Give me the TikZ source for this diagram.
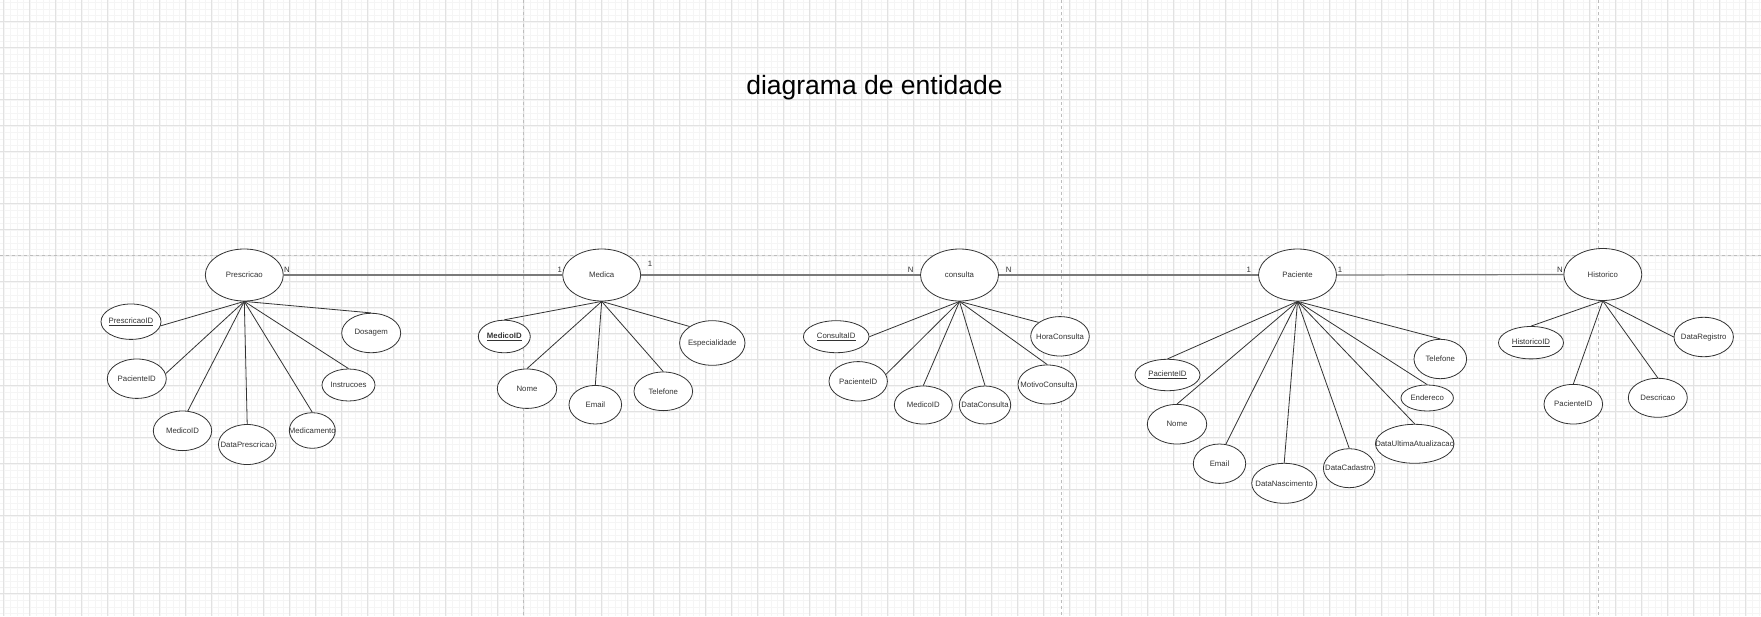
\documentclass[tikz,border=0pt]{standalone}
\usepackage{fontspec}
\setmainfont{Liberation Sans}
\usetikzlibrary{shapes.geometric}
\definecolor{ink}{HTML}{333333}
\definecolor{relgray}{HTML}{7A7A7A}
\definecolor{gridmaj}{HTML}{E2E2E2}
\definecolor{gridmin}{HTML}{F5F5F5}
\definecolor{pagegray}{HTML}{BDBDBD}
\begin{document}
\begin{tikzpicture}[x=1pt,y=-1pt,
  minline/.style={draw=gridmin,line width=0.4pt},
  majline/.style={draw=gridmaj,line width=0.7pt},
  pagebreak/.style={draw=pagegray,line width=0.8pt,dash pattern=on 3pt off 3pt},
  blob/.style={ellipse,draw=ink,line width=0.8pt,fill=white,inner sep=0pt,text=ink,
    font=\fontsize{7.8}{9}\selectfont,
    execute at begin node={\hbox to 0pt\bgroup\hss},execute at end node={\hss\egroup}},
  entity/.style={blob,minimum width=78pt,minimum height=52pt},
  attr/.style 2 args={blob,minimum width=#1pt,minimum height=#2pt},
  card/.style={inner sep=0pt,text=ink,font=\fontsize{7.8}{9}\selectfont},
  relline/.style={draw=relgray,line width=1.2pt},
  attrline/.style={draw=ink,line width=0.8pt}]
 \fill[white] (0,0) rectangle (1761,616);
 \useasboundingbox (0,0) rectangle (1761,616);
 \foreach \i in {0,...,271} \draw[minline] ({-2.7+6.5*\i},0) -- ({-2.7+6.5*\i},616);
 \foreach \j in {0,...,94} \draw[minline] (0,{2.2+6.5*\j}) -- (1761,{2.2+6.5*\j});
 \foreach \i in {0,...,67} \draw[majline] ({3.8+26*\i},0) -- ({3.8+26*\i},616);
 \foreach \j in {0,...,22} \draw[majline] (0,{21.7+26*\j}) -- (1761,{21.7+26*\j});
 \draw[pagebreak] (0,255.3) -- (1761,255.3);
 \foreach \px in {523.6,1061.7,1598.7} \draw[pagebreak] (\px,0) -- (\px,616);
 \node[anchor=base,font=\fontsize{26.5}{30}\selectfont] (titulo) at (874.5,94.3) {diagrama de entidade};
 % entidades
 \node[entity] (presc) at (244.3,275) {Prescricao};
 \node[entity] (medica) at (601.7,275) {Medica};
 \node[entity] (consulta) at (959.5,275) {consulta};
 \node[entity] (paciente) at (1297.5,275) {Paciente};
 \node[entity] (historico) at (1602.8,274.5) {Historico};
 % atributos Prescricao
 \node[attr={60}{35.4}] (pr1) at (131,321.7) {\underline{PrescricaoID}};
 \node[attr={59}{39.4}] (pr2) at (136.8,378.7) {PacienteID};
 \node[attr={58.4}{39.6}] (pr3) at (182.5,430.8) {MedicoID};
 \node[attr={57.6}{40}] (pr4) at (247.2,444.5) {DataPrescricao};
 \node[attr={46}{35.6}] (pr5) at (312.3,430.5) {Medicamento};
 \node[attr={53}{32}] (pr6) at (348.5,385) {Instrucoes};
 \node[attr={59}{39.4}] (pr7) at (371.2,333) {Dosagem};
 % atributos Medica
 \node[attr={52}{32.6}] (me1) at (504.3,336.5) {\textbf{\underline{MedicoID}}};
 \node[attr={59.4}{39.4}] (me2) at (527,388.7) {Nome};
 \node[attr={52.6}{38.6}] (me3) at (595.3,404.7) {Email};
 \node[attr={58.6}{38.6}] (me4) at (663.3,391.3) {Telefone};
 \node[attr={65.4}{44.6}] (me5) at (712.3,343) {Especialidade};
 % atributos consulta
 \node[attr={65.6}{32}] (co1) at (836.2,336.7) {\underline{ConsultaID}};
 \node[attr={58.4}{39.4}] (co2) at (858.2,381.3) {PacienteID};
 \node[attr={58}{38}] (co3) at (923.3,405) {MedicoID};
 \node[attr={51.4}{38}] (co4) at (985,405) {DataConsulta};
 \node[attr={58.6}{39}] (co5) at (1047.3,384.5) {MotivoConsulta};
 \node[attr={58.6}{39.4}] (co6) at (1060,336.3) {HoraConsulta};
 % atributos Paciente
 \node[attr={65}{31.4}] (pa1) at (1167.5,375) {\underline{PacienteID}};
 \node[attr={59.4}{39.6}] (pa2) at (1177,424.2) {Nome};
 \node[attr={52.4}{39.4}] (pa3) at (1219.5,463.7) {Email};
 \node[attr={65}{40}] (pa4) at (1284.2,483.3) {DataNascimento};
 \node[attr={51.6}{39}] (pa5) at (1349.2,468.2) {DataCadastro};
 \node[attr={78.6}{39}] (pa6) at (1414.7,443.8) {DataUltimaAtualizacao};
 \node[attr={52.4}{26}] (pa7) at (1427.2,398) {Endereco};
 \node[attr={52.6}{39.4}] (pa8) at (1440.3,359) {Telefone};
 % atributos Historico
 \node[attr={65}{32.4}] (hi1) at (1531,342.7) {\underline{HistoricoID}};
 \node[attr={58.6}{39.6}] (hi2) at (1573.3,404.2) {PacienteID};
 \node[attr={59}{39}] (hi3) at (1657.8,397.8) {Descricao};
 \node[attr={59.4}{39.4}] (hi4) at (1703.7,337) {DataRegistro};
 % ligacoes
 \draw[relline] (presc.east) -- (medica.west);
 \draw[relline] (medica.east) -- (consulta.west);
 \draw[relline] (consulta.east) -- (paciente.west);
 \draw[relline] (paciente.east) -- (historico.west);
 \foreach \a/\t in {pr1/352,pr2/10,pr3/75,pr4/north,pr5/north,pr6/north,pr7/north}
   \draw[attrline] (presc.south) -- (\a.\t);
 \foreach \a/\t in {me1/north,me2/north,me3/north,me4/north,me5/144}
   \draw[attrline] (medica.south) -- (\a.\t);
 \foreach \a/\t in {co1/east,co2/14,co3/north,co4/north,co5/north,co6/147}
   \draw[attrline] (consulta.south) -- (\a.\t);
 \foreach \a/\t in {pa1/north,pa2/north,pa3/72,pa4/north,pa5/north,pa6/north,pa7/north,pa8/north}
   \draw[attrline] (paciente.south) -- (\a.\t);
 \foreach \a/\t in {hi1/north,hi2/north,hi3/north,hi4/west}
   \draw[attrline] (historico.south) -- (\a.\t);
 % cardinalidades
 \node[card] (c1) at (287,269.4) {N};
 \node[card] (c2) at (559.7,269.4) {1};
 \node[card] (c3) at (650,264) {1};
 \node[card] (c4) at (910.7,269.4) {N};
 \node[card] (c5) at (1008.7,269.4) {N};
 \node[card] (c6) at (1248.7,269.4) {1};
 \node[card] (c7) at (1340,269.4) {1};
 \node[card] (c8) at (1560,269.4) {N};
\end{tikzpicture}
\end{document}
